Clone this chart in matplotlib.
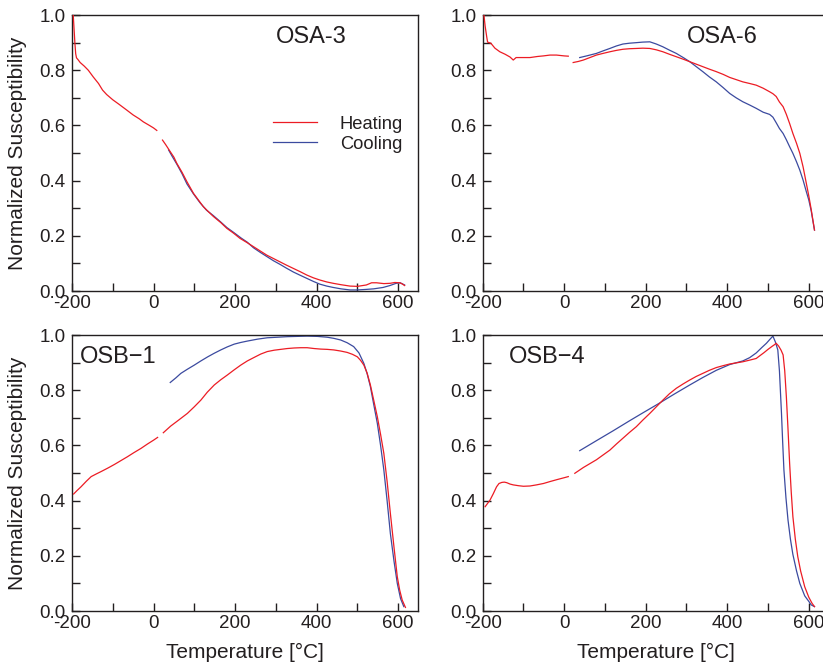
import matplotlib
matplotlib.use("Agg")
import matplotlib.pyplot as plt
from matplotlib.ticker import MultipleLocator, FixedLocator, FixedFormatter

plt.rcParams['font.family'] = ['Liberation Sans', 'DejaVu Sans']

RED = '#ec1c24'
BLUE = '#3b4a9f'
TXT = '#231f20'

# ---------------- data ----------------
# OSA-3
osa3_h1_T = [-197, -195, -193, -191, -189, -185, -180, -170, -160, -148, -135, -125, -115, -100, -85, -66, -50, -35, -25, -10, 0, 8]
osa3_h1_v = [1.00, 0.95, 0.90, 0.86, 0.845, 0.838, 0.828, 0.815, 0.800, 0.776, 0.752, 0.728, 0.712, 0.693, 0.677, 0.656, 0.638, 0.624, 0.613, 0.600, 0.591, 0.582]
osa3_h2_T = [22, 30, 41, 50, 57, 70, 82, 98, 110, 122, 135, 147, 165, 180, 196, 212, 230, 245, 262, 278, 294, 310, 326, 343, 360, 376, 392, 408, 425, 441, 460, 482, 500, 522, 535, 547, 565, 580, 592, 604, 610, 616]
osa3_h2_v = [0.547, 0.530, 0.505, 0.485, 0.463, 0.430, 0.396, 0.354, 0.330, 0.306, 0.287, 0.270, 0.248, 0.227, 0.210, 0.191, 0.175, 0.161, 0.145, 0.130, 0.118, 0.106, 0.094, 0.082, 0.070, 0.058, 0.048, 0.040, 0.033, 0.028, 0.023, 0.018, 0.017, 0.022, 0.030, 0.030, 0.027, 0.028, 0.031, 0.030, 0.026, 0.020]
osa3_c_T = [37, 45, 57, 70, 82, 98, 114, 130, 147, 165, 180, 196, 215, 230, 245, 262, 278, 294, 310, 326, 343, 360, 376, 392, 408, 425, 441, 460, 482, 500, 522, 540, 563, 580, 595, 605, 616]
osa3_c_v = [0.511, 0.490, 0.460, 0.425, 0.388, 0.352, 0.320, 0.293, 0.273, 0.250, 0.230, 0.213, 0.192, 0.177, 0.157, 0.140, 0.125, 0.110, 0.097, 0.083, 0.069, 0.057, 0.046, 0.035, 0.025, 0.018, 0.013, 0.008, 0.004, 0.004, 0.006, 0.008, 0.013, 0.020, 0.028, 0.030, 0.022]

# OSA-6
osa6_h1_T = [-197, -194, -190, -188, -180, -170, -158, -145, -133, -125, -118, -100, -84, -65, -51, -35, -19, 0, 10]
osa6_h1_v = [1.00, 0.96, 0.92, 0.902, 0.898, 0.880, 0.867, 0.858, 0.848, 0.837, 0.846, 0.846, 0.846, 0.850, 0.852, 0.855, 0.855, 0.852, 0.851]
osa6_h2_T = [22, 35, 47, 63, 79, 95, 112, 128, 144, 160, 177, 193, 210, 226, 242, 258, 275, 292, 308, 324, 340, 356, 373, 390, 406, 422, 438, 455, 471, 488, 504, 512, 520, 528, 537, 545, 553, 561, 570, 578, 586, 594, 600, 606, 610, 614]
osa6_h2_v = [0.828, 0.832, 0.837, 0.846, 0.855, 0.861, 0.867, 0.872, 0.876, 0.878, 0.879, 0.880, 0.879, 0.874, 0.867, 0.858, 0.849, 0.840, 0.831, 0.822, 0.813, 0.804, 0.795, 0.785, 0.774, 0.766, 0.758, 0.752, 0.746, 0.735, 0.722, 0.715, 0.705, 0.685, 0.668, 0.640, 0.607, 0.571, 0.535, 0.499, 0.450, 0.390, 0.345, 0.295, 0.258, 0.221]
osa6_c_T = [38, 55, 79, 95, 112, 128, 144, 160, 177, 193, 210, 226, 242, 258, 275, 292, 308, 324, 340, 356, 373, 390, 406, 422, 438, 455, 471, 488, 504, 512, 520, 528, 537, 545, 553, 561, 570, 578, 586, 594, 600, 606, 610, 614]
osa6_c_v = [0.846, 0.852, 0.861, 0.870, 0.879, 0.888, 0.895, 0.898, 0.900, 0.902, 0.903, 0.895, 0.885, 0.873, 0.861, 0.846, 0.831, 0.813, 0.795, 0.776, 0.758, 0.737, 0.716, 0.700, 0.686, 0.674, 0.662, 0.648, 0.640, 0.630, 0.610, 0.589, 0.571, 0.548, 0.523, 0.499, 0.468, 0.438, 0.402, 0.360, 0.330, 0.290, 0.255, 0.221]

# OSB-1
osb1_h1_T = [-196, -188, -178, -165, -153, -140, -129, -112, -96, -80, -64, -48, -31, -15, 0, 10]
osb1_h1_v = [0.424, 0.436, 0.450, 0.470, 0.487, 0.497, 0.505, 0.518, 0.531, 0.545, 0.559, 0.574, 0.589, 0.605, 0.619, 0.629]
osb1_h2_T = [24, 42, 60, 83, 100, 116, 132, 149, 165, 181, 198, 214, 230, 247, 263, 279, 296, 312, 328, 345, 361, 377, 394, 410, 426, 442, 459, 475, 488, 500, 508, 516, 524, 532, 540, 549, 557, 565, 573, 581, 590, 598, 604, 610, 618]
osb1_h2_v = [0.646, 0.670, 0.690, 0.716, 0.740, 0.764, 0.793, 0.819, 0.838, 0.855, 0.874, 0.891, 0.906, 0.919, 0.931, 0.940, 0.945, 0.948, 0.951, 0.953, 0.954, 0.954, 0.951, 0.949, 0.948, 0.946, 0.942, 0.937, 0.930, 0.921, 0.908, 0.891, 0.862, 0.819, 0.765, 0.704, 0.640, 0.571, 0.470, 0.354, 0.230, 0.124, 0.075, 0.040, 0.013]
osb1_c_T = [41, 55, 67, 83, 100, 116, 133, 149, 165, 181, 198, 214, 230, 255, 279, 304, 328, 352, 377, 402, 426, 442, 459, 475, 491, 504, 516, 524, 532, 540, 549, 557, 565, 573, 581, 590, 598, 606, 614]
osb1_c_v = [0.828, 0.845, 0.861, 0.876, 0.891, 0.906, 0.921, 0.934, 0.946, 0.957, 0.967, 0.973, 0.978, 0.985, 0.990, 0.992, 0.994, 0.995, 0.996, 0.995, 0.992, 0.988, 0.982, 0.972, 0.958, 0.935, 0.897, 0.860, 0.813, 0.750, 0.680, 0.600, 0.511, 0.400, 0.281, 0.180, 0.100, 0.045, 0.016]

# OSB-4
osb4_h1_T = [-194, -188, -182, -174, -166, -160, -153, -147, -141, -133, -125, -112, -100, -84, -68, -51, -35, -18, 0, 10]
osb4_h1_v = [0.378, 0.390, 0.402, 0.425, 0.450, 0.462, 0.466, 0.467, 0.465, 0.460, 0.457, 0.454, 0.452, 0.453, 0.457, 0.462, 0.469, 0.476, 0.483, 0.487]
osb4_h2_T = [26, 47, 63, 79, 95, 112, 128, 144, 160, 177, 193, 210, 226, 242, 258, 275, 292, 308, 324, 340, 356, 373, 390, 406, 422, 438, 455, 471, 480, 490, 500, 510, 515, 520, 526, 532, 537, 541, 545, 549, 553, 557, 561, 567, 573, 580, 590, 600, 608, 614]
osb4_h2_v = [0.499, 0.520, 0.534, 0.548, 0.565, 0.583, 0.605, 0.626, 0.647, 0.668, 0.692, 0.716, 0.740, 0.764, 0.787, 0.807, 0.823, 0.837, 0.850, 0.861, 0.872, 0.882, 0.889, 0.895, 0.899, 0.903, 0.909, 0.915, 0.925, 0.936, 0.948, 0.959, 0.964, 0.970, 0.960, 0.945, 0.928, 0.870, 0.776, 0.660, 0.535, 0.430, 0.342, 0.260, 0.197, 0.145, 0.088, 0.050, 0.028, 0.016]
osb4_c_T = [38, 80, 120, 160, 193, 230, 270, 308, 340, 373, 406, 438, 455, 471, 485, 496, 505, 512, 518, 524, 528, 533, 536, 539, 544, 549, 555, 561, 570, 578, 590, 600, 606, 614]
osb4_c_v = [0.581, 0.618, 0.653, 0.689, 0.718, 0.750, 0.786, 0.819, 0.846, 0.872, 0.893, 0.906, 0.918, 0.935, 0.955, 0.970, 0.985, 0.996, 0.975, 0.946, 0.870, 0.717, 0.610, 0.511, 0.410, 0.330, 0.260, 0.205, 0.145, 0.100, 0.055, 0.035, 0.022, 0.016]

x_ticks = [-200, 0, 200, 400, 600]
x_ticklabels = ['-200', '0', '200', '400', '600']
y_ticks = [0.0, 0.2, 0.4, 0.6, 0.8, 1.0]
y_ticklabels = ['0.0', '0.2', '0.4', '0.6', '0.8', '1.0']

panels = [
    dict(name='OSA-3', pos=[0.0875, 0.561, 0.42, 0.4163], tx=300,
         heat=[(osa3_h1_T, osa3_h1_v), (osa3_h2_T, osa3_h2_v)], cool=(osa3_c_T, osa3_c_v),
         ylabel=True, xlabel=False, legend=True),
    dict(name='OSA-6', pos=[0.5865, 0.561, 0.42, 0.4163], tx=300,
         heat=[(osa6_h1_T, osa6_h1_v), (osa6_h2_T, osa6_h2_v)], cool=(osa6_c_T, osa6_c_v),
         ylabel=False, xlabel=False, legend=False),
    dict(name='OSB\u22121', pos=[0.0875, 0.0784, 0.42, 0.4163], tx=-180,
         heat=[(osb1_h1_T, osb1_h1_v), (osb1_h2_T, osb1_h2_v)], cool=(osb1_c_T, osb1_c_v),
         ylabel=True, xlabel=True, legend=False),
    dict(name='OSB\u22124', pos=[0.5865, 0.0784, 0.42, 0.4163], tx=-135,
         heat=[(osb4_h1_T, osb4_h1_v), (osb4_h2_T, osb4_h2_v)], cool=(osb4_c_T, osb4_c_v),
         ylabel=False, xlabel=True, legend=False),
]

fig = plt.figure(figsize=(8.23, 6.63), dpi=100)
for p in panels:
    ax = fig.add_axes(p['pos'])
    first = True
    for T, v in p['heat']:
        ax.plot(T, v, color=RED, lw=0.9, label='Heating' if first else None, zorder=3)
        first = False
    ax.plot(p['cool'][0], p['cool'][1], color=BLUE, lw=0.9, label='Cooling', zorder=2)
    ax.set_xlim(-200, 648)
    ax.set_ylim(0, 1.0)
    ax.xaxis.set_major_locator(FixedLocator(x_ticks))
    ax.xaxis.set_major_formatter(FixedFormatter(x_ticklabels))
    ax.xaxis.set_minor_locator(MultipleLocator(100))
    ax.yaxis.set_major_locator(FixedLocator(y_ticks))
    ax.yaxis.set_major_formatter(FixedFormatter(y_ticklabels))
    ax.yaxis.set_minor_locator(MultipleLocator(0.1))
    ax.tick_params(axis='both', which='both', direction='in', length=6, width=1.0,
                   color=TXT, top=False, right=False)
    ax.tick_params(axis='x', which='major', labelsize=13.5, pad=3, labelcolor=TXT)
    ax.tick_params(axis='y', which='major', labelsize=13.5, pad=4.5, labelcolor=TXT)
    for s in ax.spines.values():
        s.set_linewidth(1.0)
        s.set_color(TXT)
    ax.text(p['tx'], 0.9, p['name'], fontsize=17, color=TXT, ha='left', va='baseline')
    if p['ylabel']:
        ax.set_ylabel('Normalized Susceptibility', fontsize=15, color=TXT)
        ax.yaxis.set_label_coords(-0.13, 0.5)
    if p['xlabel']:
        ax.set_xlabel('Temperature [\u00b0C]', fontsize=15, color=TXT)
        ax.xaxis.set_label_coords(0.5, -0.115)
    if p['legend']:
        leg = ax.legend(loc='center left', bbox_to_anchor=(0.5806, 0.568), frameon=False,
                        fontsize=13.2, handlelength=2.4, handletextpad=1.26,
                        labelspacing=0.15, borderpad=0, borderaxespad=0)
        for t in leg.get_texts():
            t.set_color(TXT)

fig.savefig('out.png', dpi=100)
